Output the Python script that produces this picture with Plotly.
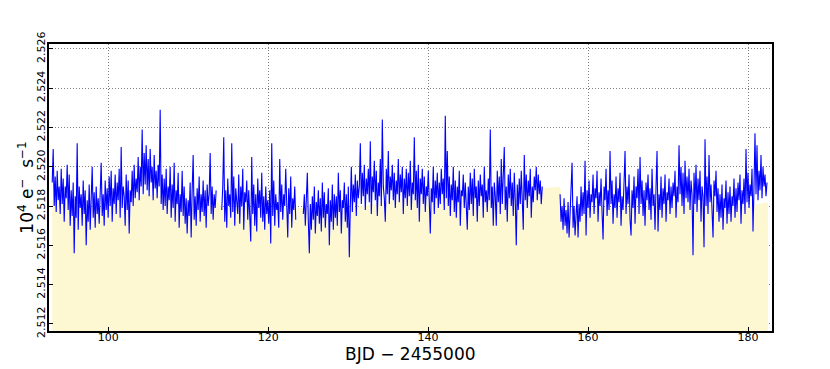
import numpy as np
import plotly.graph_objects as go

# Kepler long-cadence-like sampling (days), segment start times (BJD - 2455000)
cadence = 0.125
seg_starts = [93.0, 114.2, 124.4, 156.5]

flux_a = [
    2.5192, 2.5209, 2.5180, 2.5195, 2.5177, 2.5198, 2.5183, 2.5190,
    2.5176, 2.5199, 2.5181, 2.5194, 2.5172, 2.5190, 2.5184, 2.5201,
    2.5178, 2.5196, 2.5170, 2.5188, 2.5175, 2.5192, 2.5156, 2.5185,
    2.5174, 2.5212, 2.5168, 2.5190, 2.5179, 2.5186, 2.5170, 2.5193,
    2.5176, 2.5188, 2.5160, 2.5183, 2.5172, 2.5191, 2.5168, 2.5185,
    2.5200, 2.5174, 2.5187, 2.5169, 2.5190, 2.5176, 2.5184, 2.5171,
    2.5188, 2.5202, 2.5175, 2.5186, 2.5170, 2.5193, 2.5178, 2.5189,
    2.5174, 2.5195, 2.5180, 2.5198, 2.5172, 2.5189, 2.5181, 2.5196,
    2.5176, 2.5192, 2.5183, 2.5199, 2.5174, 2.5210, 2.5179, 2.5190,
    2.5185, 2.5170, 2.5196, 2.5178, 2.5193, 2.5166, 2.5188, 2.5182,
    2.5198, 2.5180, 2.5201, 2.5184, 2.5194, 2.5187, 2.5205, 2.5183,
    2.5200, 2.5190, 2.5219, 2.5186, 2.5207, 2.5191, 2.5211, 2.5188,
    2.5204, 2.5185, 2.5209, 2.5192, 2.5200, 2.5183, 2.5206, 2.5189,
    2.5198, 2.5184, 2.5201, 2.5190, 2.5229, 2.5181, 2.5196, 2.5178,
    2.5194, 2.5180, 2.5199, 2.5176, 2.5190, 2.5183, 2.5200, 2.5174,
    2.5191, 2.5179, 2.5202, 2.5172, 2.5188, 2.5181, 2.5197, 2.5169,
    2.5186, 2.5177, 2.5198, 2.5175, 2.5190, 2.5171, 2.5184, 2.5166,
    2.5183, 2.5175, 2.5192, 2.5164, 2.5188, 2.5206, 2.5173, 2.5185,
    2.5170, 2.5189, 2.5178, 2.5195, 2.5172, 2.5186, 2.5177, 2.5193,
    2.5175, 2.5188, 2.5169, 2.5191, 2.5180, 2.5186, 2.5207, 2.5176,
    2.5190, 2.5173, 2.5186, 2.5179, 2.5188,
]

flux_b = [
    2.5178, 2.5190, 2.5215, 2.5172, 2.5188, 2.5169, 2.5194, 2.5180,
    2.5186, 2.5174, 2.5212, 2.5177, 2.5195, 2.5170, 2.5189, 2.5183,
    2.5176, 2.5196, 2.5171, 2.5190, 2.5180, 2.5199, 2.5168, 2.5187,
    2.5182, 2.5193, 2.5173, 2.5188, 2.5178, 2.5162, 2.5205, 2.5176,
    2.5191, 2.5170, 2.5186, 2.5167, 2.5194, 2.5179, 2.5188, 2.5174,
    2.5197, 2.5172, 2.5185, 2.5168, 2.5190, 2.5176, 2.5183, 2.5171,
    2.5188, 2.5161, 2.5212, 2.5175, 2.5193, 2.5170, 2.5186, 2.5178,
    2.5182, 2.5169, 2.5204, 2.5177, 2.5191, 2.5173, 2.5186, 2.5180,
    2.5199, 2.5172, 2.5164, 2.5189, 2.5176, 2.5195, 2.5169, 2.5184,
    2.5178, 2.5190, 2.5173,
]

flux_c = [
    2.5176, 2.5186, 2.5170, 2.5183, 2.5197, 2.5172, 2.5156, 2.5181,
    2.5168, 2.5185, 2.5173, 2.5190, 2.5166, 2.5182, 2.5175, 2.5188,
    2.5171, 2.5184, 2.5167, 2.5192, 2.5174, 2.5187, 2.5169, 2.5181,
    2.5176, 2.5189, 2.5160, 2.5183, 2.5172, 2.5191, 2.5168, 2.5186,
    2.5174, 2.5185, 2.5170, 2.5197, 2.5177, 2.5188, 2.5166, 2.5183,
    2.5179, 2.5192, 2.5172, 2.5186, 2.5169, 2.5190, 2.5154, 2.5180,
    2.5200, 2.5177, 2.5191, 2.5182, 2.5196, 2.5175, 2.5193, 2.5184,
    2.5190, 2.5212, 2.5181, 2.5197, 2.5185, 2.5201, 2.5178, 2.5194,
    2.5186, 2.5199, 2.5182, 2.5213, 2.5176, 2.5195, 2.5187, 2.5203,
    2.5183, 2.5198, 2.5175, 2.5192, 2.5185, 2.5204, 2.5180, 2.5224,
    2.5190, 2.5184, 2.5172, 2.5199, 2.5186, 2.5208, 2.5181, 2.5195,
    2.5188, 2.5201, 2.5183, 2.5197, 2.5179, 2.5193, 2.5186, 2.5204,
    2.5182, 2.5196, 2.5187, 2.5200, 2.5176, 2.5194, 2.5184, 2.5199,
    2.5180, 2.5197, 2.5185, 2.5203, 2.5178, 2.5192, 2.5186, 2.5215,
    2.5183, 2.5198, 2.5179, 2.5201, 2.5172, 2.5194, 2.5186, 2.5199,
    2.5181, 2.5195, 2.5177, 2.5190, 2.5185, 2.5198, 2.5174, 2.5166,
    2.5189, 2.5182, 2.5200, 2.5176, 2.5193, 2.5184, 2.5197, 2.5179,
    2.5192, 2.5181, 2.5199, 2.5186, 2.5194, 2.5178, 2.5226, 2.5184,
    2.5208, 2.5180, 2.5195, 2.5175, 2.5191, 2.5183, 2.5200, 2.5177,
    2.5193, 2.5174, 2.5190, 2.5182, 2.5198, 2.5170, 2.5188, 2.5185,
    2.5196, 2.5179, 2.5192, 2.5183, 2.5168, 2.5190, 2.5178, 2.5197,
    2.5181, 2.5194, 2.5175, 2.5199, 2.5184, 2.5190, 2.5172, 2.5193,
    2.5180, 2.5196, 2.5185, 2.5191, 2.5174, 2.5200, 2.5182, 2.5188,
    2.5177, 2.5194, 2.5183, 2.5219, 2.5179, 2.5190, 2.5170, 2.5192,
    2.5185, 2.5170, 2.5198, 2.5182, 2.5195, 2.5176, 2.5204, 2.5181,
    2.5193, 2.5210, 2.5178, 2.5190, 2.5172, 2.5196, 2.5184, 2.5199,
    2.5180, 2.5192, 2.5175, 2.5197, 2.5183, 2.5160, 2.5191, 2.5178,
    2.5194, 2.5181, 2.5198, 2.5175, 2.5168, 2.5206, 2.5183, 2.5196,
    2.5179, 2.5193, 2.5185, 2.5199, 2.5174, 2.5190, 2.5182, 2.5195,
    2.5188, 2.5200, 2.5183, 2.5196, 2.5186, 2.5193, 2.5181, 2.5190,
]

flux_d = [
    2.5186, 2.5172, 2.5180, 2.5168, 2.5184, 2.5170, 2.5178, 2.5166,
    2.5182, 2.5164, 2.5176, 2.5187, 2.5202, 2.5169, 2.5180, 2.5165,
    2.5178, 2.5185, 2.5164, 2.5181, 2.5172, 2.5190, 2.5175, 2.5187,
    2.5176, 2.5203, 2.5165, 2.5188, 2.5179, 2.5193, 2.5174, 2.5186,
    2.5182, 2.5196, 2.5176, 2.5189, 2.5184, 2.5198, 2.5172, 2.5187,
    2.5180, 2.5194, 2.5177, 2.5163, 2.5190, 2.5183, 2.5199, 2.5175,
    2.5188, 2.5178, 2.5208, 2.5181, 2.5193, 2.5171, 2.5186, 2.5179,
    2.5195, 2.5174, 2.5189, 2.5182, 2.5197, 2.5170, 2.5185, 2.5178,
    2.5192, 2.5208, 2.5176, 2.5190, 2.5181, 2.5196, 2.5173, 2.5165,
    2.5188, 2.5179, 2.5195, 2.5171, 2.5190, 2.5184, 2.5199, 2.5176,
    2.5205, 2.5181, 2.5193, 2.5175, 2.5188, 2.5170, 2.5192, 2.5183,
    2.5196, 2.5178, 2.5189, 2.5173, 2.5199, 2.5180, 2.5186, 2.5168,
    2.5190, 2.5208, 2.5167, 2.5186, 2.5178, 2.5195, 2.5174, 2.5189,
    2.5181, 2.5196, 2.5172, 2.5187, 2.5183, 2.5194, 2.5176, 2.5190,
    2.5179, 2.5192, 2.5185, 2.5198, 2.5174, 2.5190, 2.5182, 2.5211,
    2.5186, 2.5200, 2.5180, 2.5197, 2.5176, 2.5203, 2.5184, 2.5195,
    2.5182, 2.5199, 2.5178, 2.5193, 2.5186, 2.5155, 2.5197, 2.5181,
    2.5201, 2.5177, 2.5194, 2.5183, 2.5198, 2.5172, 2.5190, 2.5185,
    2.5159, 2.5214, 2.5180, 2.5195, 2.5176, 2.5206, 2.5182, 2.5191,
    2.5178, 2.5164, 2.5193, 2.5185, 2.5198, 2.5177, 2.5189, 2.5172,
    2.5186, 2.5174, 2.5191, 2.5168, 2.5184, 2.5179, 2.5193, 2.5171,
    2.5187, 2.5176, 2.5190, 2.5172, 2.5185, 2.5180, 2.5194, 2.5174,
    2.5189, 2.5177, 2.5192, 2.5183, 2.5196, 2.5171, 2.5188, 2.5181,
    2.5194, 2.5176, 2.5209, 2.5182, 2.5197, 2.5179, 2.5191, 2.5185,
    2.5199, 2.5167, 2.5190, 2.5217, 2.5186, 2.5211, 2.5183, 2.5198,
    2.5188, 2.5206, 2.5184, 2.5200, 2.5190, 2.5196, 2.5185, 2.5192,
]

# smoothed envelope for the shaded area
fill_time = [93.0, 95.0, 97.0, 99.0, 101.0, 103.0, 104.5, 106.0, 108.0, 110.0,
             112.0, 113.6, 114.2, 116.0, 118.0, 120.0, 122.0, 123.5, 124.4, 127.0,
             130.0, 132.0, 134.0, 136.0, 138.0, 140.0, 143.0, 146.0, 149.0, 152.0,
             154.4, 156.5, 157.0, 159.0, 162.0, 165.0, 168.0, 171.0, 174.0, 177.0,
             180.0, 182.5]
fill_flux = [2.5183, 2.5181, 2.5179, 2.5179, 2.5181, 2.5183, 2.5186, 2.5186, 2.5183, 2.5182,
             2.5182, 2.5183, 2.5179, 2.5179, 2.5179, 2.5179, 2.5179, 2.5179, 2.5179, 2.5179,
             2.5179, 2.5180, 2.5182, 2.5183, 2.5184, 2.5185, 2.5186, 2.5187, 2.5188, 2.5188,
             2.5189, 2.5190, 2.5178, 2.5179, 2.5179, 2.5179, 2.5180, 2.5180, 2.5181, 2.5180,
             2.5180, 2.5182]

x_ticks = [100, 120, 140, 160, 180]
y_ticks = [2.512, 2.514, 2.516, 2.518, 2.520, 2.522, 2.524, 2.526]

# build line arrays with gaps between segments
xs, ys = [], []
for start, seg in zip(seg_starts, [flux_a, flux_b, flux_c, flux_d]):
    t = start + cadence * np.arange(len(seg))
    xs.extend(t.tolist())
    ys.extend(seg)
    xs.append(None)
    ys.append(None)

fig = go.Figure()
fig.add_trace(go.Scatter(x=fill_time, y=fill_flux, mode="lines", line=dict(width=0),
                         fill="tozeroy", fillcolor="#fdf8d2", hoverinfo="skip",
                         showlegend=False))
fig.add_trace(go.Scatter(x=xs, y=ys, mode="lines", line=dict(color="#0000ff", width=1.1),
                         connectgaps=False, showlegend=False))

axis_common = dict(showline=True, linecolor="black", linewidth=2, mirror=True,
                   showgrid=True, gridcolor="#808080", griddash="1px,2px", gridwidth=1,
                   ticks="inside", ticklen=4, tickcolor="black", zeroline=False,
                   automargin=False,
                   tickfont=dict(family="DejaVu Sans", size=11, color="black"))

# page has an 8px body margin, so the figure is sized to fit inside the window
fig.update_layout(
    width=822, height=361,
    margin=dict(l=41, r=58, t=36, b=38),
    paper_bgcolor="white", plot_bgcolor="white",
    xaxis=dict(range=[92.6, 183.0], tickvals=x_ticks, ticklabelstandoff=-5,
               ticktext=[str(v) for v in x_ticks], **axis_common),
    yaxis=dict(range=[2.51164, 2.52625], tickvals=y_ticks, ticklabelstandoff=-2,
               ticktext=[f"{v:.3f}" for v in y_ticks], tickangle=-90,
               **axis_common),
    annotations=[
        dict(text="BJD − 2455000", xref="paper", yref="paper", x=0.5, y=-0.08,
             xanchor="center", yanchor="middle", showarrow=False,
             font=dict(family="DejaVu Sans", size=17, color="black")),
        dict(text="10<sup>4</sup> e<sup>−</sup>  s<sup>−1</sup>", xref="paper", yref="paper",
             x=-0.033, y=0.5, xanchor="center", yanchor="middle", textangle=-90,
             showarrow=False, font=dict(family="DejaVu Sans", size=17, color="black")),
    ],
)

fig.write_html("out.html")
